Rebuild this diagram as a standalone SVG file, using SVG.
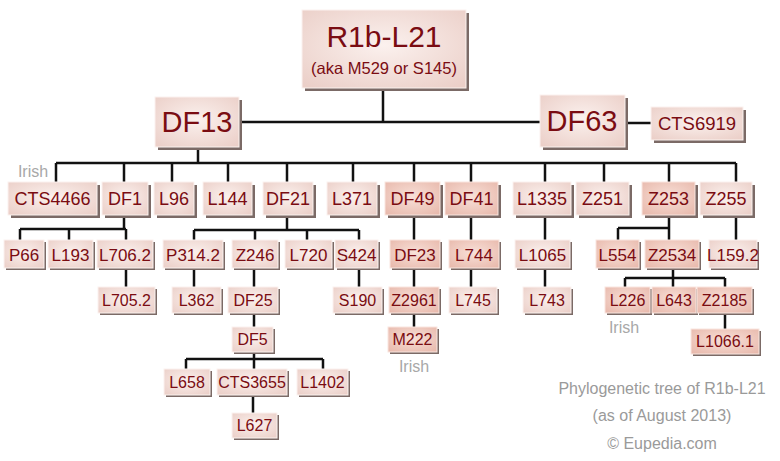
<svg xmlns="http://www.w3.org/2000/svg" width="780" height="461" viewBox="0 0 780 461">
<defs>
<radialGradient id="ga" cx="50%" cy="45%" r="70%">
<stop offset="0%" stop-color="#fbf1ee"/><stop offset="100%" stop-color="#ebcfc8"/>
</radialGradient>
<radialGradient id="gb" cx="50%" cy="45%" r="70%">
<stop offset="0%" stop-color="#f8e0d8"/><stop offset="100%" stop-color="#e8b9ac"/>
</radialGradient>
<style>
.sh{fill:#7b6a66}
.a{fill:url(#ga);stroke:#fbf2ef;stroke-width:1}
.b{fill:url(#gb);stroke:#f9e6e0;stroke-width:1}
.t{font-family:"Liberation Sans",Arial,sans-serif;fill:#7a0c12;text-anchor:middle}
.f1{font-size:18px}.f2{font-size:17px}.f3{font-size:16px}
.c{stroke:#111;stroke-width:2.5;fill:none}
.g{font-family:"Liberation Sans",Arial,sans-serif;fill:#a8a8a8;text-anchor:middle;font-size:16px}
.cap{font-family:"Liberation Sans",Arial,sans-serif;fill:#9a9a9a;text-anchor:middle;font-size:16px}
</style>
</defs>
<rect width="780" height="461" fill="#ffffff"/>
<g id="connectors">
<path class="c" d="M383 88V122M239 122H540M625 123H651M198 147V163M56 163H736"/>
<path class="c" d="M56 163V182M124 163V182M172 163V182M228 163V182M287 163V182M353 163V182M414 163V182M471 163V182M545 163V182M604 163V182M669 163V182M736 163V182"/>
<path class="c" d="M124 215V229M20 229H126M20 229V240M69 229V240M126 229V240"/>
<path class="c" d="M287 215V230M194 230H359M194 230V240M255 230V240M307 230V240M359 230V240"/>
<path class="c" d="M414 215V240M471 215V240M545 215V240M736 215V240M669 215V240M618 228H669M618 228V240"/>
<path class="c" d="M126 268V287M194 268V287M254 268V287M359 268V287M414 268V287M471 268V287M545 268V287"/>
<path class="c" d="M673 268V278M625 278H725M625 278V287M673 278V287M725 278V287"/>
<path class="c" d="M254 313V327M414 313V327M725 313V329M254 352V359M186 359H323M186 359V369M254 359V369M323 359V369M253 395V413"/>
</g>
<g id="n-r1b"><rect class="sh" x="305" y="13" width="164" height="78"/><rect class="a" x="302" y="10" width="164" height="78"/><text class="t" x="384" y="47" font-size="30">R1b-L21</text><text class="t" x="384" y="74" font-size="16.5">(aka M529 or S145)</text></g>
<g id="n-df13"><rect class="sh" x="158" y="100" width="84" height="50"/><rect class="a" x="155" y="97" width="84" height="50"/><text class="t" x="197" y="132" font-size="29">DF13</text></g>
<g id="n-df63"><rect class="sh" x="543" y="98" width="85" height="52"/><rect class="a" x="540" y="95" width="85" height="52"/><text class="t" x="582" y="131" font-size="29">DF63</text></g>
<g id="n-cts6919"><rect class="sh" x="654" y="110" width="92" height="33"/><rect class="a" x="651" y="107" width="92" height="33"/><text class="t" x="697" y="130" font-size="18.5">CTS6919</text></g>

<g id="n-cts4466"><rect class="sh" x="11" y="185" width="89" height="33"/><rect class="a" x="8" y="182" width="89" height="33"/><text class="t f1" x="52.5" y="205">CTS4466</text></g>
<g id="n-df1"><rect class="sh" x="105" y="185" width="46" height="33"/><rect class="a" x="102" y="182" width="46" height="33"/><text class="t f1" x="125" y="205">DF1</text></g>
<g id="n-l96"><rect class="sh" x="157" y="185" width="40" height="33"/><rect class="a" x="154" y="182" width="40" height="33"/><text class="t f1" x="174" y="205">L96</text></g>
<g id="n-l144"><rect class="sh" x="206" y="185" width="49" height="33"/><rect class="a" x="203" y="182" width="49" height="33"/><text class="t f1" x="227.5" y="205">L144</text></g>
<g id="n-df21"><rect class="sh" x="266" y="185" width="50" height="33"/><rect class="a" x="263" y="182" width="50" height="33"/><text class="t f1" x="288" y="205">DF21</text></g>
<g id="n-l371"><rect class="sh" x="330" y="185" width="50" height="33"/><rect class="a" x="327" y="182" width="50" height="33"/><text class="t f1" x="352" y="205">L371</text></g>
<g id="n-df49"><rect class="sh" x="388" y="185" width="55" height="33"/><rect class="b" x="385" y="182" width="55" height="33"/><text class="t f1" x="412.5" y="205">DF49</text></g>
<g id="n-df41"><rect class="sh" x="448" y="185" width="53" height="33"/><rect class="b" x="445" y="182" width="53" height="33"/><text class="t f1" x="471.5" y="205">DF41</text></g>
<g id="n-l1335"><rect class="sh" x="516" y="185" width="58" height="33"/><rect class="a" x="513" y="182" width="58" height="33"/><text class="t f1" x="542" y="205">L1335</text></g>
<g id="n-z251"><rect class="sh" x="579" y="185" width="53" height="33"/><rect class="a" x="576" y="182" width="53" height="33"/><text class="t f1" x="602.5" y="205">Z251</text></g>
<g id="n-z253"><rect class="sh" x="645" y="185" width="53" height="33"/><rect class="b" x="642" y="182" width="53" height="33"/><text class="t f1" x="668.5" y="205">Z253</text></g>
<g id="n-z255"><rect class="sh" x="703" y="185" width="52" height="33"/><rect class="a" x="700" y="182" width="52" height="33"/><text class="t f1" x="726" y="205">Z255</text></g>

<g id="n-p66"><rect class="sh" x="6" y="242" width="40" height="28"/><rect class="a" x="4" y="240" width="40" height="28"/><text class="t f2" x="24" y="261">P66</text></g>
<g id="n-l193"><rect class="sh" x="50" y="242" width="45" height="28"/><rect class="a" x="48" y="240" width="45" height="28"/><text class="t f2" x="70.5" y="261">L193</text></g>
<g id="n-l7062"><rect class="sh" x="99" y="242" width="56" height="28"/><rect class="a" x="97" y="240" width="56" height="28"/><text class="t f2" x="125" y="261">L706.2</text></g>
<g id="n-p3142"><rect class="sh" x="165" y="242" width="60" height="28"/><rect class="a" x="163" y="240" width="60" height="28"/><text class="t f2" x="193" y="261">P314.2</text></g>
<g id="n-z246"><rect class="sh" x="234" y="242" width="46" height="28"/><rect class="a" x="232" y="240" width="46" height="28"/><text class="t f2" x="255" y="261">Z246</text></g>
<g id="n-l720"><rect class="sh" x="287" y="242" width="47" height="28"/><rect class="a" x="285" y="240" width="47" height="28"/><text class="t f2" x="308.5" y="261">L720</text></g>
<g id="n-s424"><rect class="sh" x="337" y="242" width="43" height="28"/><rect class="a" x="335" y="240" width="43" height="28"/><text class="t f2" x="356.5" y="261">S424</text></g>
<g id="n-df23"><rect class="sh" x="392" y="242" width="50" height="28"/><rect class="b" x="390" y="240" width="50" height="28"/><text class="t f2" x="415" y="261">DF23</text></g>
<g id="n-l744"><rect class="sh" x="451" y="242" width="50" height="28"/><rect class="b" x="449" y="240" width="50" height="28"/><text class="t f2" x="474" y="261">L744</text></g>
<g id="n-l1065"><rect class="sh" x="517" y="242" width="55" height="28"/><rect class="a" x="515" y="240" width="55" height="28"/><text class="t f2" x="542.5" y="261">L1065</text></g>
<g id="n-l554"><rect class="sh" x="598" y="242" width="43" height="28"/><rect class="b" x="596" y="240" width="43" height="28"/><text class="t f2" x="617.5" y="261">L554</text></g>
<g id="n-z2534"><rect class="sh" x="647" y="242" width="54" height="28"/><rect class="b" x="645" y="240" width="54" height="28"/><text class="t f2" x="672" y="261">Z2534</text></g>
<g id="n-l1592"><rect class="sh" x="711" y="242" width="48" height="28"/><rect class="a" x="709" y="240" width="48" height="28"/><text class="t f2" x="733" y="261">L159.2</text></g>

<g id="n-l7052"><rect class="sh" x="100" y="289" width="57" height="26"/><rect class="a" x="98" y="287" width="57" height="26"/><text class="t f3" x="126.5" y="306">L705.2</text></g>
<g id="n-l362"><rect class="sh" x="174" y="289" width="49" height="26"/><rect class="a" x="172" y="287" width="49" height="26"/><text class="t f3" x="196.5" y="306">L362</text></g>
<g id="n-df25"><rect class="sh" x="230" y="289" width="50" height="26"/><rect class="a" x="228" y="287" width="50" height="26"/><text class="t f3" x="253" y="306">DF25</text></g>
<g id="n-s190"><rect class="sh" x="335" y="289" width="49" height="26"/><rect class="a" x="333" y="287" width="49" height="26"/><text class="t f3" x="357.5" y="306">S190</text></g>
<g id="n-z2961"><rect class="sh" x="391" y="289" width="50" height="26"/><rect class="b" x="389" y="287" width="50" height="26"/><text class="t f3" x="414" y="306">Z2961</text></g>
<g id="n-l745"><rect class="sh" x="451" y="289" width="48" height="26"/><rect class="a" x="449" y="287" width="48" height="26"/><text class="t f3" x="473" y="306">L745</text></g>
<g id="n-l743"><rect class="sh" x="525" y="289" width="48" height="26"/><rect class="a" x="523" y="287" width="48" height="26"/><text class="t f3" x="547" y="306">L743</text></g>
<g id="n-l226"><rect class="sh" x="607" y="289" width="45" height="26"/><rect class="b" x="605" y="287" width="45" height="26"/><text class="t f3" x="627.5" y="306">L226</text></g>
<g id="n-l643"><rect class="sh" x="654" y="289" width="44" height="26"/><rect class="b" x="652" y="287" width="44" height="26"/><text class="t f3" x="674" y="306">L643</text></g>
<g id="n-z2185"><rect class="sh" x="699" y="289" width="55" height="26"/><rect class="b" x="697" y="287" width="55" height="26"/><text class="t f3" x="724.5" y="306">Z2185</text></g>

<g id="n-df5"><rect class="sh" x="234" y="329" width="41" height="25"/><rect class="a" x="232" y="327" width="41" height="25"/><text class="t f3" x="252.5" y="345">DF5</text></g>
<g id="n-m222"><rect class="sh" x="390" y="329" width="49" height="25"/><rect class="b" x="388" y="327" width="49" height="25"/><text class="t f3" x="412.5" y="345">M222</text></g>
<g id="n-l10661"><rect class="sh" x="693" y="331" width="68" height="25"/><rect class="b" x="691" y="329" width="68" height="25"/><text class="t f3" x="725" y="347">L1066.1</text></g>

<g id="n-l658"><rect class="sh" x="166" y="371" width="46" height="26"/><rect class="a" x="164" y="369" width="46" height="26"/><text class="t f3" x="187" y="388">L658</text></g>
<g id="n-cts3655"><rect class="sh" x="219" y="371" width="70" height="26"/><rect class="a" x="217" y="369" width="70" height="26"/><text class="t f3" x="252" y="388">CTS3655</text></g>
<g id="n-l1402"><rect class="sh" x="299" y="371" width="51" height="26"/><rect class="a" x="297" y="369" width="51" height="26"/><text class="t f3" x="322.5" y="388">L1402</text></g>
<g id="n-l627"><rect class="sh" x="234" y="415" width="45" height="25"/><rect class="a" x="232" y="413" width="45" height="25"/><text class="t f3" x="254.5" y="431">L627</text></g>

<text class="g" x="33" y="177">Irish</text>
<text class="g" x="414" y="372">Irish</text>
<text class="g" x="624" y="333">Irish</text>
<text class="cap" x="662" y="394">Phylogenetic tree of R1b-L21</text>
<text class="cap" x="662" y="421">(as of August 2013)</text>
<text class="cap" x="662" y="449">© Eupedia.com</text>
</svg>
